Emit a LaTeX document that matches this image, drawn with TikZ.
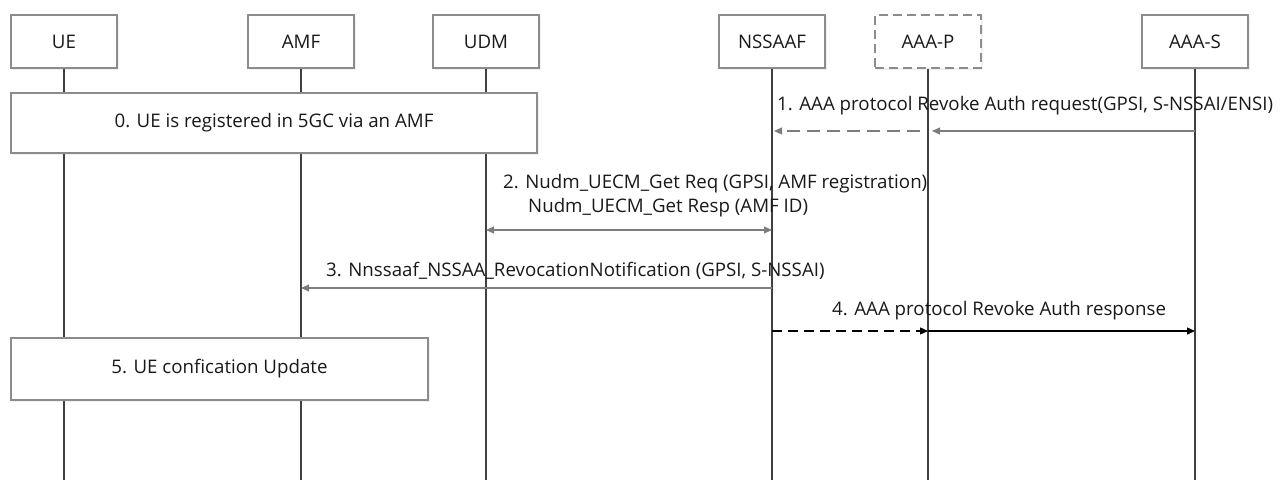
\documentclass[tikz,border=0pt]{standalone}
\usepackage{fontspec}
\setmainfont{Open Sans}
\usepackage{xcolor}
\usetikzlibrary{arrows.meta, positioning, shadows}

\definecolor{boxgray}{RGB}{140,140,140}
\definecolor{linegray}{RGB}{64,64,64}
\definecolor{msggray}{RGB}{125,125,125}
\definecolor{txt}{RGB}{25,25,25}
\newcommand{\msgfont}{\fontsize{18.7}{22}\selectfont}

\begin{document}
\begin{tikzpicture}[
    x=1pt, y=-1pt,
    actor/.style={
      rectangle, draw=boxgray, fill=white, line width=1.1pt,
      minimum width=106pt, minimum height=53pt,
      text centered, font=\msgfont, text=txt,
      drop shadow={opacity=0.12, shadow xshift=1.5pt, shadow yshift=-1.5pt}
    },
    stepbox/.style={
      rectangle, draw=boxgray, fill=white, line width=1.1pt,
      minimum height=60pt, inner sep=0pt,
      text centered, font=\msgfont, text=txt,
      drop shadow={opacity=0.12, shadow xshift=1.5pt, shadow yshift=-1.5pt}
    },
    lbl/.style={font=\msgfont, text=txt, inner sep=0pt, anchor=base west},
    life/.style={draw=linegray, line width=1.3pt},
    arr/.style={-{Triangle[length=8pt, width=7pt]}, draw=msggray, line width=1.1pt},
    darr/.style={arr, dash pattern=on 13pt off 7pt},
    barr/.style={-{Triangle[length=8pt, width=7pt]}, draw=black, line width=1.3pt},
    dbarr/.style={barr, dash pattern=on 10pt off 6pt}
  ]
  \useasboundingbox (0,0) rectangle (1286,480);

  % lifeline heads
  \node[actor] (ue)     at (64,41.5)   {UE};
  \node[actor] (amf)    at (301,41.5)  {AMF};
  \node[actor] (udm)    at (486,41.5)  {UDM};
  \node[actor] (nssaaf) at (772,41.5)  {NSSAAF};
  \node[actor, dashed, dash pattern=on 9pt off 5pt] (aaap) at (928,41.5) {AAA-P};
  \node[actor] (aaas)   at (1195,41.5) {AAA-S};

  % lifelines
  \foreach \n in {ue, amf, udm, nssaaf, aaap, aaas}
    \draw[life] (\n.south) -- (\n.south |- 0,480);

  % 0.
  \node[stepbox, minimum width=526pt] (s0) at (274,123)
        {0. UE is registered in 5GC via an AMF};

  % 1.
  \node[lbl] (t1) at (777,110)
        {1. AAA protocol Revoke Auth request(GPSI, S-NSSAI/ENSI)};
  \coordinate (m1s) at (aaas.south |- 0,131);
  \coordinate (m1p) at (aaap.south |- 0,131);
  \coordinate (m1n) at (nssaaf.south |- 0,131);
  \draw[arr, shorten >=4pt] (m1s) -- (m1p);
  \draw[darr, shorten <=8pt, shorten >=2pt] (m1p) -- (m1n);

  % 2.
  \node[lbl] (t2a) at (503,188) {2. Nudm\_UECM\_Get Req (GPSI, AMF registration)};
  \node[lbl] (t2b) at (528,212) {Nudm\_UECM\_Get Resp (AMF ID)};
  \coordinate (m2u) at (udm.south |- 0,230);
  \coordinate (m2n) at (nssaaf.south |- 0,230);
  \draw[arr, {Triangle[length=8pt, width=7pt]}-{Triangle[length=8pt, width=7pt]}] (m2u) -- (m2n);

  % 3.
  \node[lbl] (t3) at (326,276)
        {3. Nnssaaf\_NSSAA\_RevocationNotification (GPSI, S-NSSAI)};
  \coordinate (m3n) at (nssaaf.south |- 0,288);
  \coordinate (m3a) at (amf.south |- 0,288);
  \draw[arr] (m3n) -- (m3a);

  % 4.
  \node[lbl] (t4) at (832,315) {4. AAA protocol Revoke Auth response};
  \coordinate (m4n) at (nssaaf.south |- 0,331);
  \coordinate (m4p) at (aaap.south |- 0,331);
  \coordinate (m4s) at (aaas.south |- 0,331);
  \draw[dbarr] (m4n) -- (m4p);
  \draw[barr] (m4p) -- (m4s);

  % 5.
  \node[stepbox, minimum width=417pt, minimum height=62pt] (s5) at (219.5,369)
        {5. UE confication Update};

\end{tikzpicture}
\end{document}
